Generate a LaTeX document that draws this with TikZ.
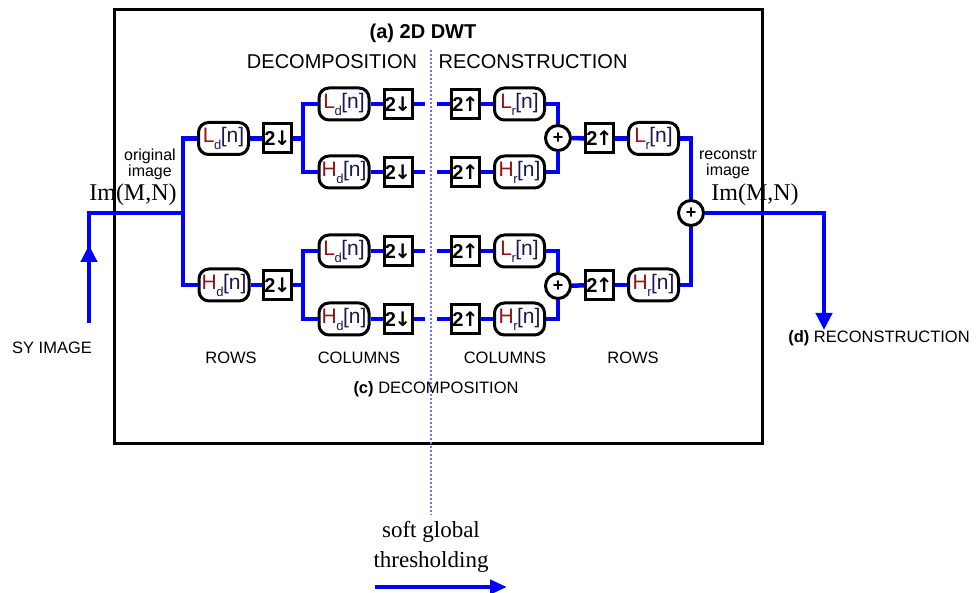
\documentclass[tikz,border=0pt]{standalone}
\usepackage{fontspec}
\setmainfont{Liberation Sans}
\newfontfamily\timesfont{Liberation Serif}
\newfontfamily\arrowfont{DejaVu Sans}
\usepackage{xcolor}
\usepackage{tikz}
\usetikzlibrary{positioning, arrows.meta, calc}

\definecolor{wireblue}{RGB}{0,0,255}
\definecolor{dotblue}{RGB}{110,110,255}
\definecolor{filtred}{RGB}{150,20,20}
\definecolor{filtnavy}{RGB}{25,25,80}

% filter label: letter, subscript, [n]
\newcommand{\filt}[2]{{\color{filtred}#1}\kern-0.5pt\raisebox{-7pt}{\fontsize{13}{13}\selectfont\color{filtnavy}#2}\kern-0.5pt{\color{filtnavy}[n]}}
\newcommand{\smpdown}{2\kern-1.5pt{\arrowfont\bfseries ↓}}
\newcommand{\smpup}{2\kern-1.5pt{\arrowfont\bfseries ↑}}

\begin{document}
\begin{tikzpicture}[x=1pt, y=1pt,
  wire/.style={wireblue, line width=4.5pt},
  filtbox/.style={draw, line width=3pt, rounded corners=10pt, minimum width=50pt, minimum height=32pt, inner sep=0pt, font=\fontsize{21}{21}\selectfont},
  sampbox/.style={draw, line width=3pt, minimum width=28pt, minimum height=29pt, inner sep=0pt, font=\fontsize{20}{20}\selectfont\bfseries},
  addbox/.style={circle, draw, line width=3pt, minimum size=25pt, inner sep=0pt, font=\fontsize{18}{18}\selectfont\bfseries},
  lbl/.style={inner sep=0pt, font=\fontsize{16.5}{16.5}\selectfont},
  imglbl/.style={inner sep=0pt, font=\timesfont\fontsize{24}{24}\selectfont}]
\useasboundingbox (0,0) rectangle (977,593);
% outer frame (a) 2D DWT
\draw[line width=3pt] (114,583) rectangle (762,149);
\node[inner sep=0pt, font=\fontsize{20}{20}\selectfont\bfseries] (title) at (423,560) {(a) 2D DWT};
\node[lbl, font=\fontsize{20}{20}\selectfont] (dectitle) at (332,531) {DECOMPOSITION};
\node[lbl, font=\fontsize{20}{20}\selectfont] (rectitle) at (533,531) {RECONSTRUCTION};
% thresholding split line
\coordinate (splittop) at (431,543);
\coordinate (splitbot) at (431,78);
\draw[dotblue, line width=2pt, dash pattern=on 2pt off 2pt] (splittop) -- (splitbot);
% rows decomposition
\node[filtbox] (ldrow) at (223.5,454.5) {\filt{L}{d}};
\node[filtbox] (hdrow) at (224,308) {\filt{H}{d}};
\node[sampbox] (dsrA) at (277.5,454.5) {\smpdown};
\node[sampbox] (dsrB) at (277.5,308) {\smpdown};
% columns decomposition
\node[filtbox] (ldc1) at (344,489) {\filt{L}{d}};
\node[filtbox] (hdc1) at (344,421) {\filt{H}{d}};
\node[filtbox] (ldc2) at (344,342) {\filt{L}{d}};
\node[filtbox] (hdc2) at (344,274) {\filt{H}{d}};
\node[sampbox] (dsc1) at (398,489) {\smpdown};
\node[sampbox] (dsc2) at (398,421) {\smpdown};
\node[sampbox] (dsc3) at (398,342) {\smpdown};
\node[sampbox] (dsc4) at (398,274) {\smpdown};
% columns reconstruction
\node[sampbox] (usc1) at (465.5,489) {\smpup};
\node[sampbox] (usc2) at (465.5,421) {\smpup};
\node[sampbox] (usc3) at (465.5,342) {\smpup};
\node[sampbox] (usc4) at (465.5,274) {\smpup};
\node[filtbox] (lrc1) at (519.5,489) {\filt{L}{r}};
\node[filtbox] (hrc1) at (519.5,421) {\filt{H}{r}};
\node[filtbox] (lrc2) at (519.5,342) {\filt{L}{r}};
\node[filtbox] (hrc2) at (519.5,274) {\filt{H}{r}};
\node[addbox] (addc1) at (558,455) {+};
\node[addbox] (addc2) at (558,307) {+};
% rows reconstruction
\node[sampbox] (usrA) at (599.5,454.5) {\smpup};
\node[sampbox] (usrB) at (599.5,308) {\smpup};
\node[filtbox] (lrrow) at (653.5,454.5) {\filt{L}{r}};
\node[filtbox] (hrrow) at (653.5,308) {\filt{H}{r}};
\node[addbox] (addf) at (691,380) {+};
% input side
\coordinate (src) at (89,270);
\coordinate (srctip) at (89,348);
\coordinate (inj) at (183,380);
\coordinate (brA) at (303,454.5);
\coordinate (brB) at (303,308);
\draw[wire] (src) |- (inj);
\draw[wire, -{Triangle[length=17pt,width=16pt]}] (src) -- (srctip);
\draw[wire] (ldrow.west) -| (inj) |- (hdrow.west);
\draw[wire] (ldrow) -- (dsrA);
\draw[wire] (hdrow) -- (dsrB);
\draw[wire] (dsrA) -- (brA);
\draw[wire] (dsrB) -- (brB);
\draw[wire] (ldc1.west) -| (brA) |- (hdc1.west);
\draw[wire] (ldc2.west) -| (brB) |- (hdc2.west);
\draw[wire] (ldc1) -- (dsc1);
\draw[wire] (hdc1) -- (dsc2);
\draw[wire] (ldc2) -- (dsc3);
\draw[wire] (hdc2) -- (dsc4);
% broken links across the split
\coordinate (gapl) at (425,0);
\coordinate (gapr) at (437,0);
\foreach \r in {1,2,3,4} {
  \draw[wire] (dsc\r.east) -- (dsc\r.east -| gapl);
  \draw[wire] (usc\r.west) -- (usc\r.west -| gapr);
}
\draw[wire] (usc1) -- (lrc1);
\draw[wire] (usc2) -- (hrc1);
\draw[wire] (usc3) -- (lrc2);
\draw[wire] (usc4) -- (hrc2);
\draw[wire] (lrc1.east) -| (addc1.north);
\draw[wire] (hrc1.east) -| (addc1.south);
\draw[wire] (lrc2.east) -| (addc2.north);
\draw[wire] (hrc2.east) -| (addc2.south);
\draw[wire] (addc1) -- (usrA);
\draw[wire] (addc2) -- (usrB);
\draw[wire] (usrA) -- (lrrow);
\draw[wire] (usrB) -- (hrrow);
\draw[wire] (lrrow.east) -| (addf.north);
\draw[wire] (hrrow.east) -| (addf.south);
% output side
\coordinate (outtip) at (824,263);
\draw[wire, -{Triangle[length=17pt,width=16pt]}] (addf.east) -| (outtip);
% image labels
\node[inner sep=0pt, align=center, font=\fontsize{16}{16}\selectfont] (orig) at (150,429) {original\\image};
\node[imglbl] (imin) at (133,398) {Im(M,N)};
\node[inner sep=0pt, align=center, font=\fontsize{16}{16}\selectfont] (recon) at (728,429) {reconstr\\image};
\node[imglbl] (imout) at (755,398) {Im(M,N)};
% stage labels
\node[lbl] (sy) at (52,245) {SY IMAGE};
\node[lbl] (rowsd) at (231,235) {ROWS};
\node[lbl] (colsd) at (359,235) {COLUMNS};
\node[lbl] (colsr) at (505,235) {COLUMNS};
\node[lbl] (rowsr) at (633,235) {ROWS};
\node[lbl] (cdec) at (436,204) {\textbf{(c)} DECOMPOSITION};
\node[lbl] (drec) at (879,255) {\textbf{(d)} RECONSTRUCTION};
% thresholding
\node[inner sep=0pt, align=center, font=\timesfont\fontsize{23}{30}\selectfont] (thr) at (431,46) {soft global\\thresholding};
\coordinate (thra) at (375,6);
\coordinate (thrb) at (507,6);
\draw[wire, -{Triangle[length=17pt,width=14pt]}] (thra) -- (thrb);
\end{tikzpicture}
\end{document}
